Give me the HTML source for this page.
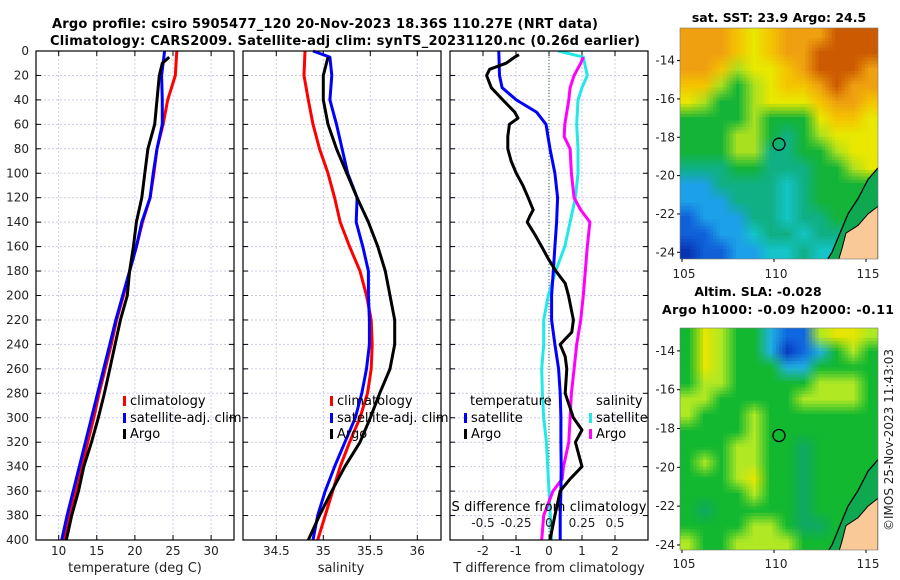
<!DOCTYPE html>
<html><head><meta charset="utf-8"><style>
html,body{margin:0;padding:0;background:#fff;}
svg{display:block;font-family:"DejaVu Sans","Liberation Sans",sans-serif;}
</style></head><body>
<svg id="chart" width="900" height="580" viewBox="0 0 900 580" xmlns="http://www.w3.org/2000/svg">
<defs>
<clipPath id="clipSST"><rect x="680" y="28" width="198" height="231"/></clipPath>
<clipPath id="clipSLA"><rect x="680" y="328" width="198" height="222"/></clipPath>
<clipPath id="clipP3"><rect x="450" y="51" width="198" height="489"/></clipPath>
</defs>
<text x="325" y="28" text-anchor="middle" font-weight="bold" font-size="13" textLength="546">Argo profile: csiro 5905477_120 20-Nov-2023 18.36S 110.27E (NRT data)</text>
<text x="345" y="45" text-anchor="middle" font-weight="bold" font-size="13" textLength="590">Climatology: CARS2009. Satellite-adj clim: synTS_20231120.nc (0.26d earlier)</text>
<g id="panels"></g>
<g id="maps"></g>
<text x="779" y="22" text-anchor="middle" font-weight="bold" font-size="12.5">sat. SST: 23.9 Argo: 24.5</text>
<text x="758" y="296" text-anchor="middle" font-weight="bold" font-size="12.5">Altim. SLA: -0.028</text>
<text x="778" y="314" text-anchor="middle" font-weight="bold" font-size="12.5" textLength="232">Argo h1000: -0.09 h2000: -0.11</text>
<text transform="translate(893,440) rotate(-90)" text-anchor="middle" font-size="12" fill="#222">©IMOS 25-Nov-2023 11:43:03</text>
</svg>
<script>
// ---- data ----
const depths = [0,20,40,60,80,100,120,140,160,180,200,220,240,260,280,300,320,340,360,380,400];
const tClim = [25.5,25.3,24.3,23.7,22.9,22.5,22.0,21.0,20.2,19.3,18.5,17.6,16.9,16.1,15.3,14.6,13.8,13.0,12.2,11.4,10.7];
const tSat = [23.9,23.5,23.6,23.6,22.9,22.4,22.0,20.9,20.2,19.3,18.4,17.5,16.7,15.9,15.1,14.3,13.5,12.7,11.9,11.1,10.4];
const argoTDepths = [5,10,20,40,60,80,100,120,140,160,180,200,220,240,260,280,300,320,340,360,380,400];
const tArgo = [24.5,23.6,23.2,22.9,22.6,21.7,21.3,20.9,20.2,19.8,19.3,19.0,18.1,17.4,16.7,16.0,15.2,14.3,13.3,12.6,11.7,11.0];
const sClim = [34.805,34.795,34.84,34.89,34.96,35.05,35.12,35.18,35.28,35.39,35.46,35.51,35.52,35.51,35.47,35.39,35.28,35.18,35.10,35.02,34.94];
const sSatDepths = [0,5,20,40,60,80,100,120,140,160,180,200,220,240,260,280,300,320,340,360,380,400];
const sSat = [34.89,35.07,35.09,35.07,35.14,35.2,35.26,35.36,35.35,35.42,35.48,35.48,35.49,35.49,35.46,35.41,35.34,35.23,35.12,35.02,34.94,34.89];
const sArgoDepths = [5,20,40,60,80,100,120,140,160,180,200,220,240,260,280,300,320,340,360,380,400];
const sArgo = [35.05,35.0,35.0,35.05,35.14,35.25,35.36,35.48,35.58,35.66,35.71,35.76,35.76,35.71,35.6,35.5,35.39,35.23,35.09,34.96,34.84];
const dTSatDepths = [0,20,30,40,50,60,80,100,120,140,160,180,200,220,240,260,280,300,320,340,360,380,400];
const dTSat = [-1.52,-1.5,-1.42,-0.99,-0.38,-0.09,0.03,0.18,0.26,0.23,0.18,0.13,0.08,0.08,0.18,0.29,0.34,0.36,0.36,0.37,0.36,0.34,0.34];
const dTArgoDepths = [3,5,10,15,20,30,40,50,55,60,70,80,90,100,110,120,130,135,140,150,160,170,180,190,200,220,230,240,250,260,280,300,310,320,340,350,360,380,400];
const dTArgo = [-0.91,-1.04,-1.3,-1.8,-1.89,-1.75,-1.4,-1.04,-0.94,-1.2,-1.25,-1.25,-1.15,-0.99,-0.79,-0.63,-0.48,-0.58,-0.66,-0.43,-0.22,-0.02,0.21,0.49,0.59,0.74,0.69,0.34,0.49,0.54,0.49,0.74,1.0,0.8,1.0,0.64,0.34,0.18,0.03];
const dSSatDepths = [0,5,20,30,40,60,80,100,120,140,160,180,200,220,240,260,280,300,320,340,360,380,400];
const dSSat = [0.07,0.26,0.29,0.25,0.22,0.21,0.22,0.22,0.2,0.16,0.12,0.05,-0.005,-0.04,-0.04,-0.055,-0.05,-0.04,-0.02,-0.01,0.0,0.01,0.02];
const dSArgoDepths = [5,10,20,30,40,60,70,80,100,120,130,140,160,180,200,220,240,260,280,300,320,340,350,360,370,380,400];
const dSArgo = [0.26,0.24,0.19,0.16,0.15,0.12,0.115,0.16,0.17,0.19,0.24,0.31,0.29,0.275,0.26,0.24,0.21,0.19,0.17,0.16,0.15,0.11,0.1,0.03,-0.005,-0.04,-0.055];
const depthTicks = [0,20,40,60,80,100,120,140,160,180,200,220,240,260,280,300,320,340,360,380,400];
const tTicks = [10,15,20,25,30];
const sTicks = [34.5,35,35.5,36];
const dTTicks = [-2,-1,0,1,2];
const dSTicks = [-0.5,-0.25,0,0.25,0.5];
const dSTickLabels = ["-0.5","-0.25","0","0.25","0.5"];
const lonTicks = [105,110,115];
const latTicks = [-14,-16,-18,-20,-22,-24];
const argoLon = 110.27, argoLat = -18.36;
const sstGrid = [
"OOOAYAOOODDD","OOOAYAOODDDD","OOALYYAODDDO","AALGLYAAODOO","YLGGLYYYAOOA","GGGGLGGGYAAY",
"GGGLLGTGLYYY","GGGLLTTGGLYY","TTTGGTTTGGLY","KKTTTTCTGGGG","KKKTTTCTGGGG","BKKKTTCTTGGG",
"BBKKCTTCTTCG","NBBKKCCTCCCG"];
const slaGrid = [
"GYLGGKBBLYYL","GYLGGKNBKGLG","GYLGGGKKGGGG","GLLGGGGGLLLG","LLGGGGGLLLLG","LGGGLGGGGGGG",
"GGGGLGGGGGGG","GGGLLGGTGGGG","GLGLLGGTGGGG","GGGLYGGTGGGG","GGGGLGGTGGGG","GTGGGGGTGGGG",
"GGGGLLGTTGGG","LGGLLLLGGGGG"];

// ---- helpers ----
const NS="http://www.w3.org/2000/svg";
const panels=document.getElementById('panels');
const maps=document.getElementById('maps');
function mk(tag,attrs,parent){const e=document.createElementNS(NS,tag);for(const k in attrs)e.setAttribute(k,attrs[k]);(parent||panels).appendChild(e);return e;}
const PT=51,PB=540;
const yD=d=>PT+(d/400)*(PB-PT);
const xT=t=>58.7+(t-10)*7.62;
const xS=s=>276.3+(s-34.5)*94;
const xDT=t=>549+t*33;
const xDS=s=>549+s*132;
const P=[[36,234],[243,441],[450,648]];

P.forEach((p,i)=>{
  depthTicks.forEach(d=>{
    const g=mk('line',{x1:p[0],x2:p[1],y1:yD(d),y2:yD(d),stroke:'#c9cbe8','stroke-width':1,'stroke-dasharray':'2,2'});
    
    
    mk('line',{x1:p[0],x2:p[0]+5,y1:yD(d),y2:yD(d),stroke:'#000'});
    mk('line',{x1:p[1]-5,x2:p[1],y1:yD(d),y2:yD(d),stroke:'#000'});
  });
});
function vgrid(ticks,fx,p,labels,ly){
  ticks.forEach((t,i)=>{
    const g=mk('line',{x1:fx(t),x2:fx(t),y1:PT,y2:PB,stroke:'#c9cbe8','stroke-dasharray':'2,2'});
    
    
    mk('line',{x1:fx(t),x2:fx(t),y1:PB-5,y2:PB,stroke:'#000'});
    mk('line',{x1:fx(t),x2:fx(t),y1:PT,y2:PT+5,stroke:'#000'});
    const tx=mk('text',{x:fx(t),y:ly,'text-anchor':'middle','font-size':12,fill:'#222'});
    tx.textContent=labels?labels[i]:String(t);
    
    
  });
}
vgrid(tTicks,xT,P[0],null,555);
vgrid(sTicks,xS,P[1],null,555);
vgrid(dTTicks,xDT,P[2],null,555);
depthTicks.forEach(d=>{
  const t=mk('text',{x:29,y:yD(d)+4,'text-anchor':'end','font-size':12,fill:'#222'});
  t.textContent=String(d);
  
  
});
const z=mk('line',{x1:xDT(0),x2:xDT(0),y1:PT,y2:PB,stroke:'#336633','stroke-dasharray':'1,2'});



function line(xs,ds,fx,color,name,clip){
  const pts=xs.map((v,i)=>fx(v).toFixed(1)+','+yD(ds[i]).toFixed(1)).join(' ');
  const a={points:pts,fill:'none',stroke:color,'stroke-width':3,'stroke-linejoin':'round'};
  if(clip)a['clip-path']='url(#clipP3)';
  const e=mk('polyline',a);
  
  
}
line(tClim,depths,xT,'#ff0000','temp-climatology-line');
line(tSat,depths,xT,'#0000ff','temp-satellite-line');
line(tArgo,argoTDepths,xT,'#000000','temp-argo-line');
line(sClim,depths,xS,'#ff0000','sal-climatology-line');
line(sSat,sSatDepths,xS,'#0000ff','sal-satellite-line');
line(sArgo,sArgoDepths,xS,'#000000','sal-argo-line');
line(dSSat,dSSatDepths,xDS,'#22e8e8','sdiff-satellite-line',1);
line(dSArgo,dSArgoDepths,xDS,'#ff00ff','sdiff-argo-line',1);
line(dTSat,dTSatDepths,xDT,'#0000ff','tdiff-satellite-line',1);
line(dTArgo,dTArgoDepths,xDT,'#000000','tdiff-argo-line',1);

P.forEach(p=>{
  const r=mk('rect',{x:p[0],y:PT,width:p[1]-p[0],height:PB-PT,fill:'none',stroke:'#000','stroke-width':1.2});
  
  
});

const st=mk('text',{x:549,y:511,'text-anchor':'middle','font-size':13,textLength:195});
st.textContent='S difference from climatology';


dSTicks.forEach((s,i)=>{
  const t=mk('text',{x:xDS(s),y:527,'text-anchor':'middle','font-size':12,fill:'#222'});
  t.textContent=dSTickLabels[i];
  
  
});
function axTitle(x,txt,name){const t=mk('text',{x:x,y:572,'text-anchor':'middle','font-size':13,fill:'#222'});t.textContent=txt;}
axTitle(135,'temperature (deg C)','temp-axis-title');
axTitle(341,'salinity','salinity-axis-title');
axTitle(549,'T difference from climatology','tdiff-axis-title');

function legend(x,y,color,txt,name){
  const g=mk('g',{});
  
  
  if(color)mk('rect',{x:x-7,y:y-9,width:3,height:10,fill:color},g);
  const t=mk('text',{x:x,y:y,'font-size':13},g);t.textContent=txt;
}
legend(130,405,'#ff0000','climatology','legend-climatology');
legend(130,422,'#0000ff','satellite-adj. clim','legend-satellite');
legend(130,438,'#000','Argo','legend-argo');
legend(337,405,'#ff0000','climatology','legend-climatology');
legend(337,422,'#0000ff','satellite-adj. clim','legend-satellite');
legend(337,438,'#000','Argo','legend-argo');
legend(470,405,null,'temperature','legend-temperature-header');
legend(471,422,'#0000ff','satellite','legend-t-satellite');
legend(471,438,'#000','Argo','legend-t-argo');
legend(596,405,null,'salinity','legend-salinity-header');
legend(596,422,'#22e8e8','satellite','legend-s-satellite');
legend(596,438,'#ff00ff','Argo','legend-s-argo');

// ---- maps ----
const palette={D:'#cc5a00',O:'#eea010',A:'#f4c400',Y:'#e8e800',L:'#a8e020',G:'#14b438',T:'#10b084',C:'#14c4c8',K:'#1ca0e8',B:'#1060d8',N:'#0834b4'};
const slaPal={G:'#12b830',L:'#b0e824',K:'#20b0e0',B:'#1068e0',N:'#0838c0',Y:'#e6e600',T:'#10a864'};
function hex(c){return [parseInt(c.substr(1,2),16),parseInt(c.substr(3,2),16),parseInt(c.substr(5,2),16)];}
function drawMap(top,bot,latTop,latBot,grid,pal,clip,name,lblY){
  const L=680,R=878;
  const lx=lon=>682+(lon-105)*18.4;
  const ly=lat=>top+(latTop-lat)/(latTop-latBot)*(bot-top);
  const g=mk('g',{'clip-path':'url(#'+clip+')'},maps);
  
  
  const rows=grid.length,cols=grid[0].length,cw=(R-L)/cols,ch=(bot-top)/rows;
  const rgb=grid.map(r=>r.split('').map(k=>hex(pal[k])));
  const step=3.3;
  for(let y=top;y<bot;y+=step){
    for(let x=L;x<R;x+=step){
      let fx=(x+step/2-L)/cw-0.5, fy=(y+step/2-top)/ch-0.5;
      fx=Math.max(0,Math.min(cols-1.001,fx)); fy=Math.max(0,Math.min(rows-1.001,fy));
      const i=Math.floor(fx),j=Math.floor(fy),u=fx-i,v=fy-j;
      const i2=Math.min(cols-1,i+1),j2=Math.min(rows-1,j+1);
      const c=[0,1,2].map(k=>Math.round(rgb[j][i][k]*(1-u)*(1-v)+rgb[j][i2][k]*u*(1-v)+rgb[j2][i][k]*(1-u)*v+rgb[j2][i2][k]*u*v));
      mk('rect',{x:x.toFixed(1),y:y.toFixed(1),width:step+0.4,height:step+0.4,fill:`rgb(${c[0]},${c[1]},${c[2]})`},g);
    }
  }
  mk('polygon',{points:`878,${ly(-19.6)} 868,${ly(-20.2)} 858,${ly(-21.2)} 848,${ly(-22.0)} 840,${ly(-23.0)} 832,${ly(-24.0)} 826,${ly(-24.5)} 878,${ly(-24.5)}`,fill:'#0fa850'},g);
  const land=mk('polygon',{points:`878,${ly(-21.6)} 868,${ly(-22.0)} 858,${ly(-22.6)} 846,${ly(-23.0)} 842,${ly(-23.8)} 838,${ly(-24.5)} 878,${ly(-24.5)}`,fill:'#f9c997',stroke:'#000','stroke-width':1},g);
  
  
  mk('polyline',{points:`878,${ly(-19.6)} 868,${ly(-20.2)} 858,${ly(-21.2)} 848,${ly(-22.0)} 840,${ly(-23.0)} 832,${ly(-24.0)} 826,${ly(-24.5)}`,fill:'none',stroke:'#000','stroke-width':1.3},g);
  const c=mk('circle',{cx:lx(argoLon),cy:ly(argoLat),r:6,fill:'none',stroke:'#000','stroke-width':1.3},maps);
  
  
  mk('rect',{x:L,y:top,width:R-L,height:bot-top,fill:'none',stroke:'#777','stroke-width':0.6},maps);
  latTicks.forEach(lat=>{
    const t=mk('text',{x:675,y:ly(lat)+4,'text-anchor':'end','font-size':12,fill:'#222'},maps);
    t.textContent=String(lat);
    
    
    mk('line',{x1:L-3,x2:L,y1:ly(lat),y2:ly(lat),stroke:'#000'},maps);
  });
  lonTicks.forEach(lon=>{
    const t=mk('text',{x:lx(lon)+2,y:lblY,'text-anchor':'middle','font-size':12,fill:'#222'},maps);
    t.textContent=String(lon);
    
    
    mk('line',{x1:lx(lon),x2:lx(lon),y1:bot,y2:bot+3,stroke:'#000'},maps);
  });
}
drawMap(28,259,-12.3,-24.35,sstGrid,palette,'clipSST','sst-map',278);
drawMap(328,550,-12.82,-24.26,slaGrid,slaPal,'clipSLA','sla-map',568);
</script>
</body></html>
